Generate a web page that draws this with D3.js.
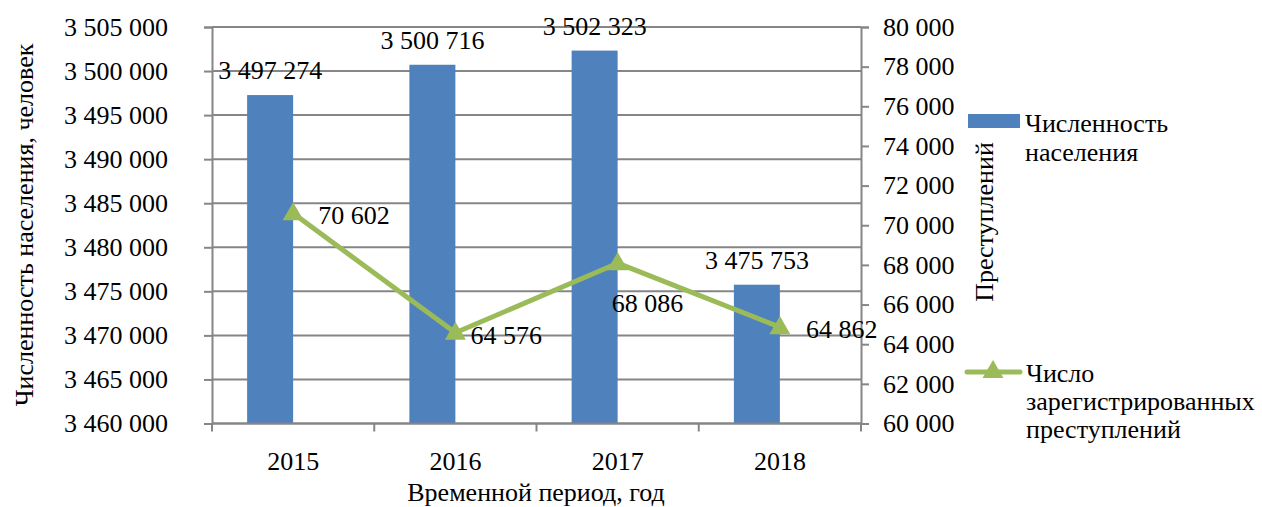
<!DOCTYPE html>
<html>
<head>
<meta charset="utf-8">
<script src="https://cdn.jsdelivr.net/npm/d3@7"></script>
<style>
  body { margin: 0; background: #fff; }
</style>
</head>
<body>
<div id="chart"></div>
<script>
// data
var years = ['2015', '2016', '2017', '2018']
var population = [3497274, 3500716, 3502323, 3475753]
var crimes = [70602, 64576, 68086, 64862]
var leftTicks = [3460000, 3465000, 3470000, 3475000, 3480000, 3485000, 3490000, 3495000, 3500000, 3505000]
var rightTicks = [60000, 62000, 64000, 66000, 68000, 70000, 72000, 74000, 76000, 78000, 80000]
// manual label offsets for the crime series (dx from point, dy baseline from point)
var crimeLabelPos = [[25, 11], [15, 11], [-6, 49], [26, 11]]

var W = 1262, H = 507
var m = { left: 212, right: 861, top: 27, bottom: 423.5 }
var fs = 26
var font = "'Liberation Serif', 'Times New Roman', 'DejaVu Serif', serif"
var grid = '#868686'

var svg = d3.select('#chart').append('svg')
  .attr('width', W).attr('height', H)
  .style('font-family', font)

var fmt = function(v) { return d3.format(',')(v).replace(/,/g, ' ') }

var x = d3.scaleBand().domain(years).range([m.left, m.right])
var yL = d3.scaleLinear().domain([3460000, 3505000]).range([m.bottom, m.top])
var yR = d3.scaleLinear().domain([60000, 80000]).range([m.bottom, m.top])

function txt(sel) {
  return sel.style('font-family', font).style('font-size', fs + 'px').attr('fill', '#000')
}

// gridlines
svg.append('g').selectAll('line').data(leftTicks).enter().append('line')
  .attr('x1', m.left).attr('x2', m.right)
  .attr('y1', function(d) { return yL(d) }).attr('y2', function(d) { return yL(d) })
  .attr('stroke', grid).attr('stroke-width', 2)

// bars (sit left of category centre, like an excel cluster)
var barW = 46
svg.append('g').selectAll('rect').data(population).enter().append('rect')
  .attr('x', function(d, i) { return x(years[i]) + x.bandwidth() / 2 - barW })
  .attr('width', barW)
  .attr('y', function(d) { return yL(d) })
  .attr('height', function(d) { return m.bottom - yL(d) })
  .attr('fill', '#4F81BD')

// left axis
var axL = svg.append('g').attr('transform', 'translate(' + m.left + ',0)')
  .call(d3.axisLeft(yL).tickValues(leftTicks).tickFormat(fmt).tickSize(8).tickPadding(36))
axL.attr('font-family', null).attr('font-size', null)
axL.select('.domain').attr('stroke', grid).attr('stroke-width', 2)
axL.selectAll('.tick line').attr('stroke', grid).attr('stroke-width', 2)
txt(axL.selectAll('text'))

// right axis
var axR = svg.append('g').attr('transform', 'translate(' + m.right + ',0)')
  .call(d3.axisRight(yR).tickValues(rightTicks).tickFormat(fmt).tickSize(8).tickPadding(14))
axR.attr('font-family', null).attr('font-size', null)
axR.select('.domain').attr('stroke', grid).attr('stroke-width', 2)
axR.selectAll('.tick line').attr('stroke', grid).attr('stroke-width', 2)
txt(axR.selectAll('text'))

// bottom axis
var xTicks = years.map(function(d) { return x(d) }).concat([m.right])
var axB = svg.append('g')
axB.append('line').attr('x1', m.left).attr('x2', m.right)
  .attr('y1', m.bottom).attr('y2', m.bottom).attr('stroke', grid).attr('stroke-width', 2)
axB.selectAll('.tk').data(xTicks).enter().append('line')
  .attr('x1', function(d) { return d }).attr('x2', function(d) { return d })
  .attr('y1', m.bottom).attr('y2', m.bottom + 8).attr('stroke', grid).attr('stroke-width', 2)
txt(axB.selectAll('text').data(years).enter().append('text'))
  .attr('x', function(d) { return x(d) + x.bandwidth() / 2 })
  .attr('y', 470).attr('text-anchor', 'middle')
  .text(function(d) { return d })

// line series
var pts = crimes.map(function(d, i) { return [x(years[i]) + x.bandwidth() / 2, yR(d)] })
svg.append('path').datum(pts)
  .attr('d', d3.line())
  .attr('fill', 'none').attr('stroke', '#9BBB59').attr('stroke-width', 5)
  .attr('stroke-linejoin', 'round')

var tri = d3.symbol().type(d3.symbolTriangle).size(190)
svg.append('g').selectAll('path').data(pts).enter().append('path')
  .attr('d', tri)
  .attr('transform', function(d) { return 'translate(' + d[0] + ',' + (d[1] + 1) + ')' })
  .attr('fill', '#9BBB59')

// data labels
txt(svg.append('g').selectAll('text').data(population).enter().append('text'))
  .attr('x', function(d, i) { return x(years[i]) + x.bandwidth() / 2 - barW / 2 })
  .attr('y', function(d) { return yL(d) - 16 })
  .attr('text-anchor', 'middle')
  .text(function(d) { return fmt(d) })

txt(svg.append('g').selectAll('text').data(crimes).enter().append('text'))
  .attr('x', function(d, i) { return pts[i][0] + crimeLabelPos[i][0] })
  .attr('y', function(d, i) { return pts[i][1] + crimeLabelPos[i][1] })
  .text(function(d) { return fmt(d) })

// axis titles
txt(svg.append('text')).attr('transform', 'translate(33,225) rotate(-90)')
  .attr('text-anchor', 'middle')
  .text('Численность населения, человек')
txt(svg.append('text')).attr('transform', 'translate(993,222) rotate(-90)')
  .attr('text-anchor', 'middle')
  .text('Преступлений')
txt(svg.append('text')).attr('x', 536).attr('y', 501)
  .attr('text-anchor', 'middle')
  .text('Временной период, год')

// legend
var lg = svg.append('g')
lg.append('rect').attr('x', 968).attr('y', 114).attr('width', 52).attr('height', 14).attr('fill', '#4F81BD')
txt(lg.append('text')).attr('x', 1025).attr('y', 132)
  .selectAll('tspan').data(['Численность', 'населения']).enter().append('tspan')
  .attr('x', 1025).attr('dy', function(d, i) { return i ? 29 : 0 }).text(function(d) { return d })

lg.append('line').attr('x1', 967).attr('x2', 1020).attr('y1', 372).attr('y2', 372)
  .attr('stroke', '#9BBB59').attr('stroke-width', 5).attr('stroke-linecap', 'round')
lg.append('path').attr('d', tri).attr('transform', 'translate(993,372)').attr('fill', '#9BBB59')
txt(lg.append('text')).attr('x', 1026).attr('y', 382)
  .selectAll('tspan').data(['Число', 'зарегистрированных', 'преступлений']).enter().append('tspan')
  .attr('x', 1026).attr('dy', function(d, i) { return i ? 28 : 0 }).text(function(d) { return d })
</script>
</body>
</html>
